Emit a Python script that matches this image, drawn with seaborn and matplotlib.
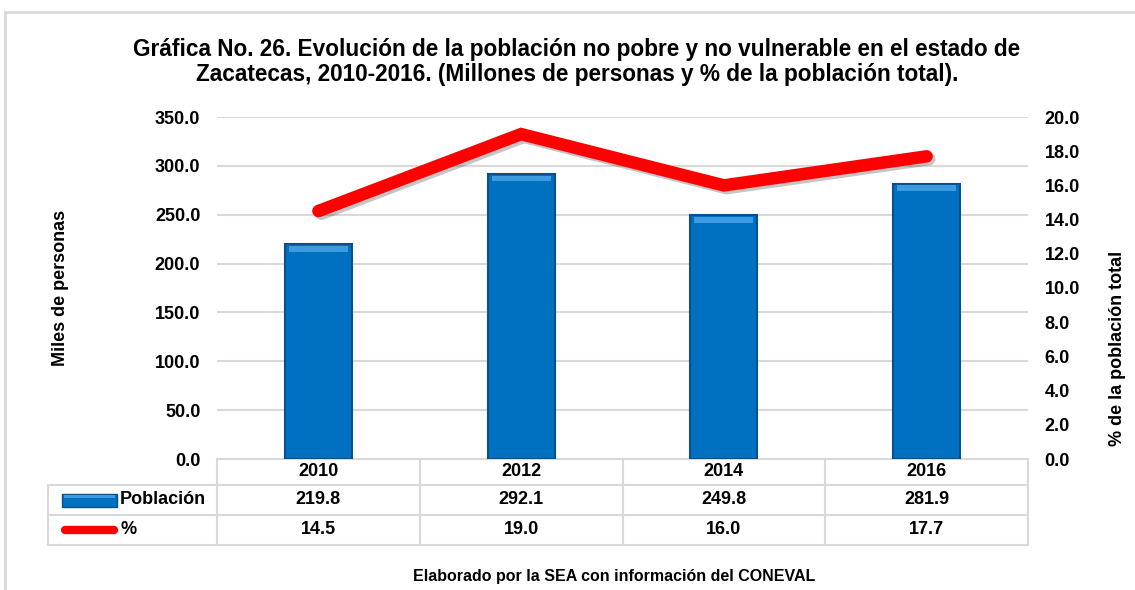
import numpy as np
import pandas as pd
import matplotlib.pyplot as plt
import matplotlib.patheffects as pe
from matplotlib.patches import Rectangle
from matplotlib.lines import Line2D
from matplotlib.ticker import FormatStrFormatter
import matplotlib.transforms as mtransforms
import seaborn as sns

# Datos
years = ['2010', '2012', '2014', '2016']
poblacion = [219.8, 292.1, 249.8, 281.9]
porcentaje = [14.5, 19.0, 16.0, 17.7]

df = pd.DataFrame({'anio': years, 'pob': poblacion, 'pct': porcentaje})

sns.set_theme(style='white')
plt.rcParams['font.family'] = ['Liberation Sans', 'DejaVu Sans']
plt.rcParams['font.weight'] = 'bold'
plt.rcParams['text.color'] = 'black'
plt.rcParams['axes.labelcolor'] = 'black'
plt.rcParams['ytick.color'] = 'black'

fig = plt.figure(figsize=(11.35, 5.90), dpi=100)
W, H = 1135, 590
fs = 13

# marco gris
fig.patches.append(Rectangle((5 / W, -0.1), 1.2, 1 - 12 / H + 0.1, transform=fig.transFigure,
                             fill=False, edgecolor='#D9D9D9', lw=2))

ax = fig.add_axes([217 / W, 1 - 459 / H, 811 / W, 342 / H])

# barras
sns.barplot(data=df, x='anio', y='pob', color='#0070C0', width=0.33,
            edgecolor='#0B4F8C', linewidth=1.5, saturation=1, ax=ax, zorder=3)
# brillo superior (efecto bisel)
for bar in list(ax.patches):
    x0, w, h = bar.get_x(), bar.get_width(), bar.get_height()
    ax.add_patch(Rectangle((x0 + w * 0.06, h - 8), w * 0.88, 6, facecolor='#3C9BE3',
                           edgecolor='none', zorder=3.5))

ax.set_xlim(-0.5, 3.5)
ax.set_ylim(0, 350)
ax.set_yticks(np.arange(0, 351, 50))
ax.yaxis.set_major_formatter(FormatStrFormatter('%.1f'))
ax.grid(axis='y', color='#D9D9D9', lw=1.5, zorder=0)
ax.set_axisbelow(True)
for s in ax.spines.values():
    s.set_visible(False)
ax.set_xticks([])
ax.set_xlabel('')
ax.set_ylabel('Miles de personas', fontsize=fs, fontweight='bold', labelpad=62)
ax.tick_params(axis='y', length=0, pad=12, labelsize=fs)
for t in ax.get_yticklabels():
    t.set_fontweight('bold')

# linea de porcentaje
ax2 = ax.twinx()
sns.lineplot(x=np.arange(len(years)), y=porcentaje, color='#FF0000', linewidth=9,
             solid_capstyle='round', solid_joinstyle='miter', ax=ax2, zorder=4,
             path_effects=[pe.SimpleLineShadow(offset=(2, -2), alpha=0.25), pe.Normal()])
ax2.set_ylim(0, 20)
ax2.set_yticks(np.arange(0, 20.1, 2))
ax2.yaxis.set_major_formatter(FormatStrFormatter('%.1f'))
for s in ax2.spines.values():
    s.set_visible(False)
ax2.tick_params(axis='y', length=0, pad=12, labelsize=fs)
for t in ax2.get_yticklabels():
    t.set_fontweight('bold')
ax2.set_ylabel('')
ax2.set_xlim(-0.5, 3.5)
fig.text(1117 / W, 1 - 348 / H, '% de la población total', rotation=90, ha='center', va='center',
         fontsize=fs, fontweight='bold')

# tabla de datos
trans = mtransforms.blended_transform_factory(ax.transData, ax.transAxes)
rows = [0, -26 / 342, -56 / 342, -86 / 342]
left = (48 - 217) / 811
gc = '#D9D9D9'
for y in rows[1:]:
    ax.add_line(Line2D([left, 1], [y, y], transform=ax.transAxes, color=gc, lw=1.5, clip_on=False))
ax.add_line(Line2D([0, 1], [0, 0], transform=ax.transAxes, color=gc, lw=1.5, clip_on=False))
ax.add_line(Line2D([left, left], [rows[1], rows[3]], transform=ax.transAxes, color=gc, lw=1.5, clip_on=False))
for i in range(len(years) + 1):
    ax.add_line(Line2D([i - 0.5, i - 0.5], [0, rows[3]], transform=trans, color=gc, lw=1.5, clip_on=False))

for i, (yr, p, q) in enumerate(zip(years, poblacion, porcentaje)):
    ax.text(i, (rows[0] + rows[1]) / 2, yr, transform=trans, ha='center', va='center', fontsize=fs, fontweight='bold')
    ax.text(i, (rows[1] + rows[2]) / 2, f'{p:.1f}', transform=trans, ha='center', va='center', fontsize=fs, fontweight='bold')
    ax.text(i, (rows[2] + rows[3]) / 2, f'{q:.1f}', transform=trans, ha='center', va='center', fontsize=fs, fontweight='bold')

# leyenda dentro de la tabla
sx0, sx1 = (62 - 217) / 811, (117 - 217) / 811
ym1 = (rows[1] + rows[2]) / 2
ym2 = (rows[2] + rows[3]) / 2
ax.add_patch(Rectangle((sx0, ym1 - 6.5 / 342), sx1 - sx0, 13 / 342, transform=ax.transAxes,
                       facecolor='#0070C0', edgecolor='#0B4F8C', lw=1, clip_on=False))
ax.add_patch(Rectangle((sx0 + 0.003, ym1 + 2 / 342), sx1 - sx0 - 0.006, 3 / 342, transform=ax.transAxes,
                       facecolor='#3C9BE3', edgecolor='none', clip_on=False))
ax.add_line(Line2D([sx0 + 0.004, sx1 - 0.004], [ym2, ym2], transform=ax.transAxes, color='#FF0000',
                   lw=6, solid_capstyle='round', clip_on=False))
ax.text(sx1 + 0.004, ym1, 'Población', transform=ax.transAxes, ha='left', va='center', fontsize=fs, fontweight='bold')
ax.text(sx1 + 0.004, ym2, '%', transform=ax.transAxes, ha='left', va='center', fontsize=fs, fontweight='bold')

# titulo y fuente
fig.text(577 / W, 1 - 62 / H, 'Gráfica No. 26. Evolución de la población no pobre y no vulnerable en el estado de\n'
         'Zacatecas, 2010-2016. (Millones de personas y % de la población total).',
         ha='center', va='center', fontsize=16.3, fontweight='bold', linespacing=1.15)
fig.text(614 / W, 1 - 577 / H, 'Elaborado por la SEA con información del CONEVAL',
         ha='center', va='center', fontsize=11.5, fontweight='bold')

fig.savefig('out.png', dpi=100)
